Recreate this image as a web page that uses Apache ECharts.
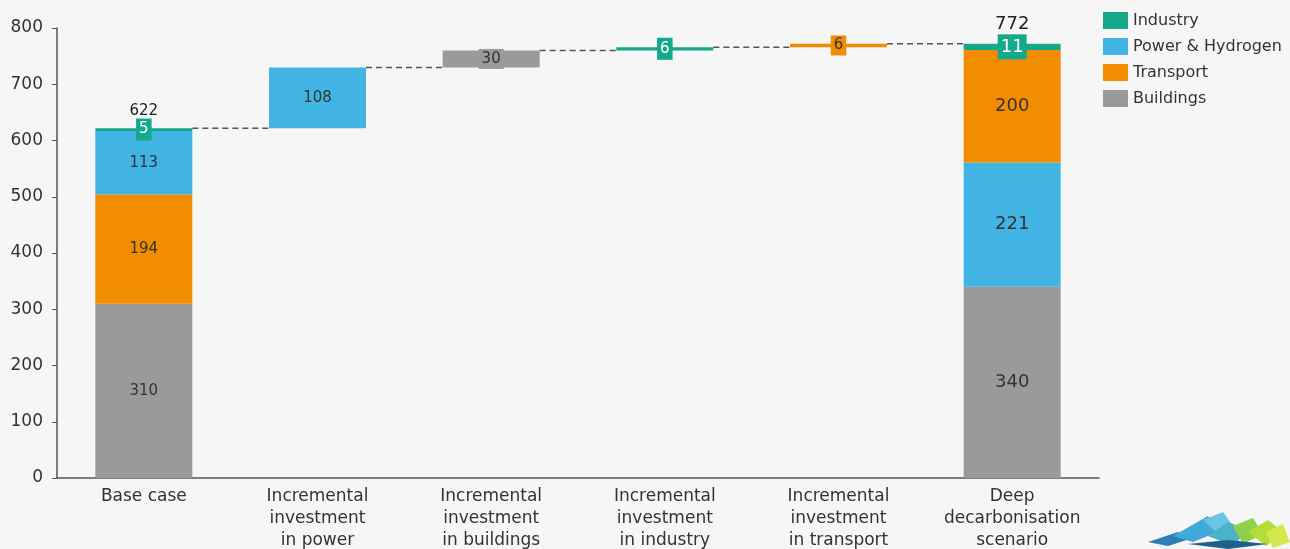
<!DOCTYPE html>
<html>
<head>
<meta charset="utf-8">
<script src="https://cdn.jsdelivr.net/npm/echarts@6/dist/echarts.min.js"></script>
<style>
  html, body { margin: 0; padding: 0; background: #f6f6f6; }
  #chart { width: 1290px; height: 549px; }
</style>
</head>
<body>
<div id="chart"></div>
<script>
// Investment waterfall: base case -> incremental steps -> deep decarbonisation
const categories = [
  'Base case',
  'Incremental\ninvestment\nin power',
  'Incremental\ninvestment\nin buildings',
  'Incremental\ninvestment\nin industry',
  'Incremental\ninvestment\nin transport',
  'Deep\ndecarbonisation\nscenario'
];
const buildings = [310, '-', 30, '-', '-', 340];
const transport = [194, '-', '-', '-', 6, 200];
const power     = [113, 108, '-', '-', '-', 221];
const industry  = [5, '-', '-', 6, '-', 11];
const yTicks = [0, 100, 200, 300, 400, 500, 600, 700, 800];

const COLORS = {
  industry: '#14a98b',
  power: '#41b4e4',
  transport: '#f28c00',
  buildings: '#9a9a9a'
};
const FONT = '"DejaVu Sans", sans-serif';
const DARK = '#333333';
const BAR_W = 97;
const LABEL_SIZE = 15;
const LAST_LABEL_SIZE = 18;

const num = v => (v === '-' ? 0 : v);
const n = categories.length;
const colTotal = i => num(buildings[i]) + num(transport[i]) + num(power[i]) + num(industry[i]);

// Invisible offsets: first and last columns stand on zero, the steps float
const offsets = [];
let running = 0;
for (let i = 0; i < n; i++) {
  if (i === 0 || i === n - 1) { offsets.push(0); if (i === 0) running = colTotal(0); }
  else { offsets.push(running); running += colTotal(i); }
}
// Level reached after each column (used for the dashed connectors)
const levels = [];
for (let i = 0; i < n - 1; i++) levels.push(offsets[i] + colTotal(i));
const totals = [[0, colTotal(0)], [n - 1, colTotal(n - 1)]];

// In the base case transport sits below power; elsewhere above
const transportLower = transport.map((v, i) => (i === 0 ? v : '-'));
const transportUpper = transport.map((v, i) => (i === 0 ? '-' : v));

function items(values, labelFor) {
  return values.map((v, i) => {
    if (v === '-') return '-';
    const lab = labelFor(i, v);
    return lab ? { value: v, label: lab } : v;
  });
}
const bigLast = i => (i === n - 1 ? { fontSize: LAST_LABEL_SIZE } : null);

function barSeries(name, values, color, labelFor) {
  return {
    name: name,
    type: 'bar',
    stack: 'wf',
    barWidth: BAR_W,
    itemStyle: { color: color },
    label: {
      show: true,
      position: 'inside',
      color: DARK,
      fontFamily: FONT,
      fontSize: LABEL_SIZE
    },
    emphasis: { disabled: true },
    data: items(values, labelFor || bigLast)
  };
}

const chart = echarts.init(document.getElementById('chart'));
chart.setOption({
  backgroundColor: '#f6f6f6',
  animation: false,
  grid: {
    left: 57, right: 191, top: 28, bottom: 71,
    containLabel: false,
    outerBoundsMode: 'none'
  },
  legend: {
    orient: 'vertical',
    left: 1103,
    top: 12,
    padding: 0,
    itemWidth: 25,
    itemHeight: 17,
    itemGap: 9,
    icon: 'rect',
    data: ['Industry', 'Power & Hydrogen', 'Transport', 'Buildings'],
    textStyle: { color: DARK, fontFamily: FONT, fontSize: 16 }
  },
  xAxis: {
    type: 'category',
    data: categories,
    axisLine: { lineStyle: { color: '#555', width: 1.5 } },
    axisTick: { show: false },
    axisLabel: {
      color: DARK,
      fontFamily: FONT,
      fontSize: 17,
      lineHeight: 22,
      margin: 8,
      interval: 0
    }
  },
  yAxis: {
    type: 'value',
    min: yTicks[0],
    max: yTicks[yTicks.length - 1],
    interval: yTicks[1] - yTicks[0],
    axisLine: { show: true, lineStyle: { color: '#555', width: 1.5 } },
    axisTick: { show: true, length: 5, lineStyle: { color: '#555' } },
    splitLine: { show: false },
    axisLabel: { color: DARK, fontFamily: FONT, fontSize: 17, margin: 14 }
  },
  series: [
    {
      name: 'offset',
      type: 'bar',
      stack: 'wf',
      barWidth: BAR_W,
      itemStyle: { color: 'transparent' },
      emphasis: { disabled: true },
      data: offsets
    },
    barSeries('Buildings', buildings, COLORS.buildings, (i) => {
      if (i === n - 1) return { fontSize: LAST_LABEL_SIZE };
      if (i === 2) return {
        backgroundColor: COLORS.buildings, padding: [3, 3, 2, 3]
      };
      return null;
    }),
    barSeries('Transport', transportLower, COLORS.transport),
    barSeries('Power & Hydrogen', power, COLORS.power),
    barSeries('Transport', transportUpper, COLORS.transport, (i) => {
      if (i === n - 1) return { fontSize: LAST_LABEL_SIZE };
      return { backgroundColor: COLORS.transport, padding: [3, 3, 2, 3] };
    }),
    barSeries('Industry', industry, COLORS.industry, (i) => ({
      backgroundColor: COLORS.industry,
      color: '#ffffff',
      padding: [4, 3, 3, 3],
      fontSize: i === n - 1 ? LAST_LABEL_SIZE : LABEL_SIZE
    })),
    {
      // dashed connectors between the right edge of a column and the next column
      name: 'connector',
      type: 'custom',
      silent: true,
      z: 1,
      data: levels.map((v, i) => [i, v]),
      renderItem: function (params, api) {
        const p = api.coord([api.value(0), api.value(1)]);
        const band = api.size([1, 0])[0];
        return {
          type: 'line',
          shape: { x1: p[0] + BAR_W / 2, y1: p[1], x2: p[0] + band - BAR_W / 2, y2: p[1] },
          style: { stroke: '#555', lineWidth: 1.5, lineDash: [6, 4] }
        };
      }
    },
    {
      // column totals above the base case and the scenario
      name: 'totals',
      type: 'scatter',
      symbolSize: 0,
      silent: true,
      itemStyle: { color: DARK, opacity: 1 },
      data: totals.map(t => ({
        value: t,
        label: { color: '#222', fontSize: t[0] === 0 ? LABEL_SIZE : LAST_LABEL_SIZE }
      })),
      label: {
        show: true,
        position: 'top',
        distance: 10,
        color: '#222',
        fontFamily: FONT,
        formatter: p => String(p.value[1])
      }
    }
  ],
  graphic: [
    {
      // small mountain emblem in the lower right corner
      type: 'group',
      left: 1148,
      top: 512,
      children: [
        { type: 'polygon', shape: { points: [[0, 30], [30, 20], [45, 26], [20, 34]] }, style: { fill: '#2e7fb8' } },
        { type: 'polygon', shape: { points: [[25, 24], [60, 4], [70, 20], [45, 30]] }, style: { fill: '#3fa9d9' } },
        { type: 'polygon', shape: { points: [[55, 8], [75, 0], [85, 14], [70, 22]] }, style: { fill: '#6cc3e6' } },
        { type: 'polygon', shape: { points: [[60, 24], [80, 10], [100, 18], [85, 34]] }, style: { fill: '#4bb3c8' } },
        { type: 'polygon', shape: { points: [[85, 14], [105, 6], [115, 22], [95, 32]] }, style: { fill: '#8fd14f' } },
        { type: 'polygon', shape: { points: [[100, 20], [120, 8], [135, 20], [118, 34]] }, style: { fill: '#b5dd3a' } },
        { type: 'polygon', shape: { points: [[118, 20], [135, 12], [142, 30], [125, 36]] }, style: { fill: '#d4e84a' } },
        { type: 'polygon', shape: { points: [[40, 32], [80, 28], [120, 32], [80, 37]] }, style: { fill: '#1f5f8e' } }
      ]
    }
  ]
});
</script>
</body>
</html>
